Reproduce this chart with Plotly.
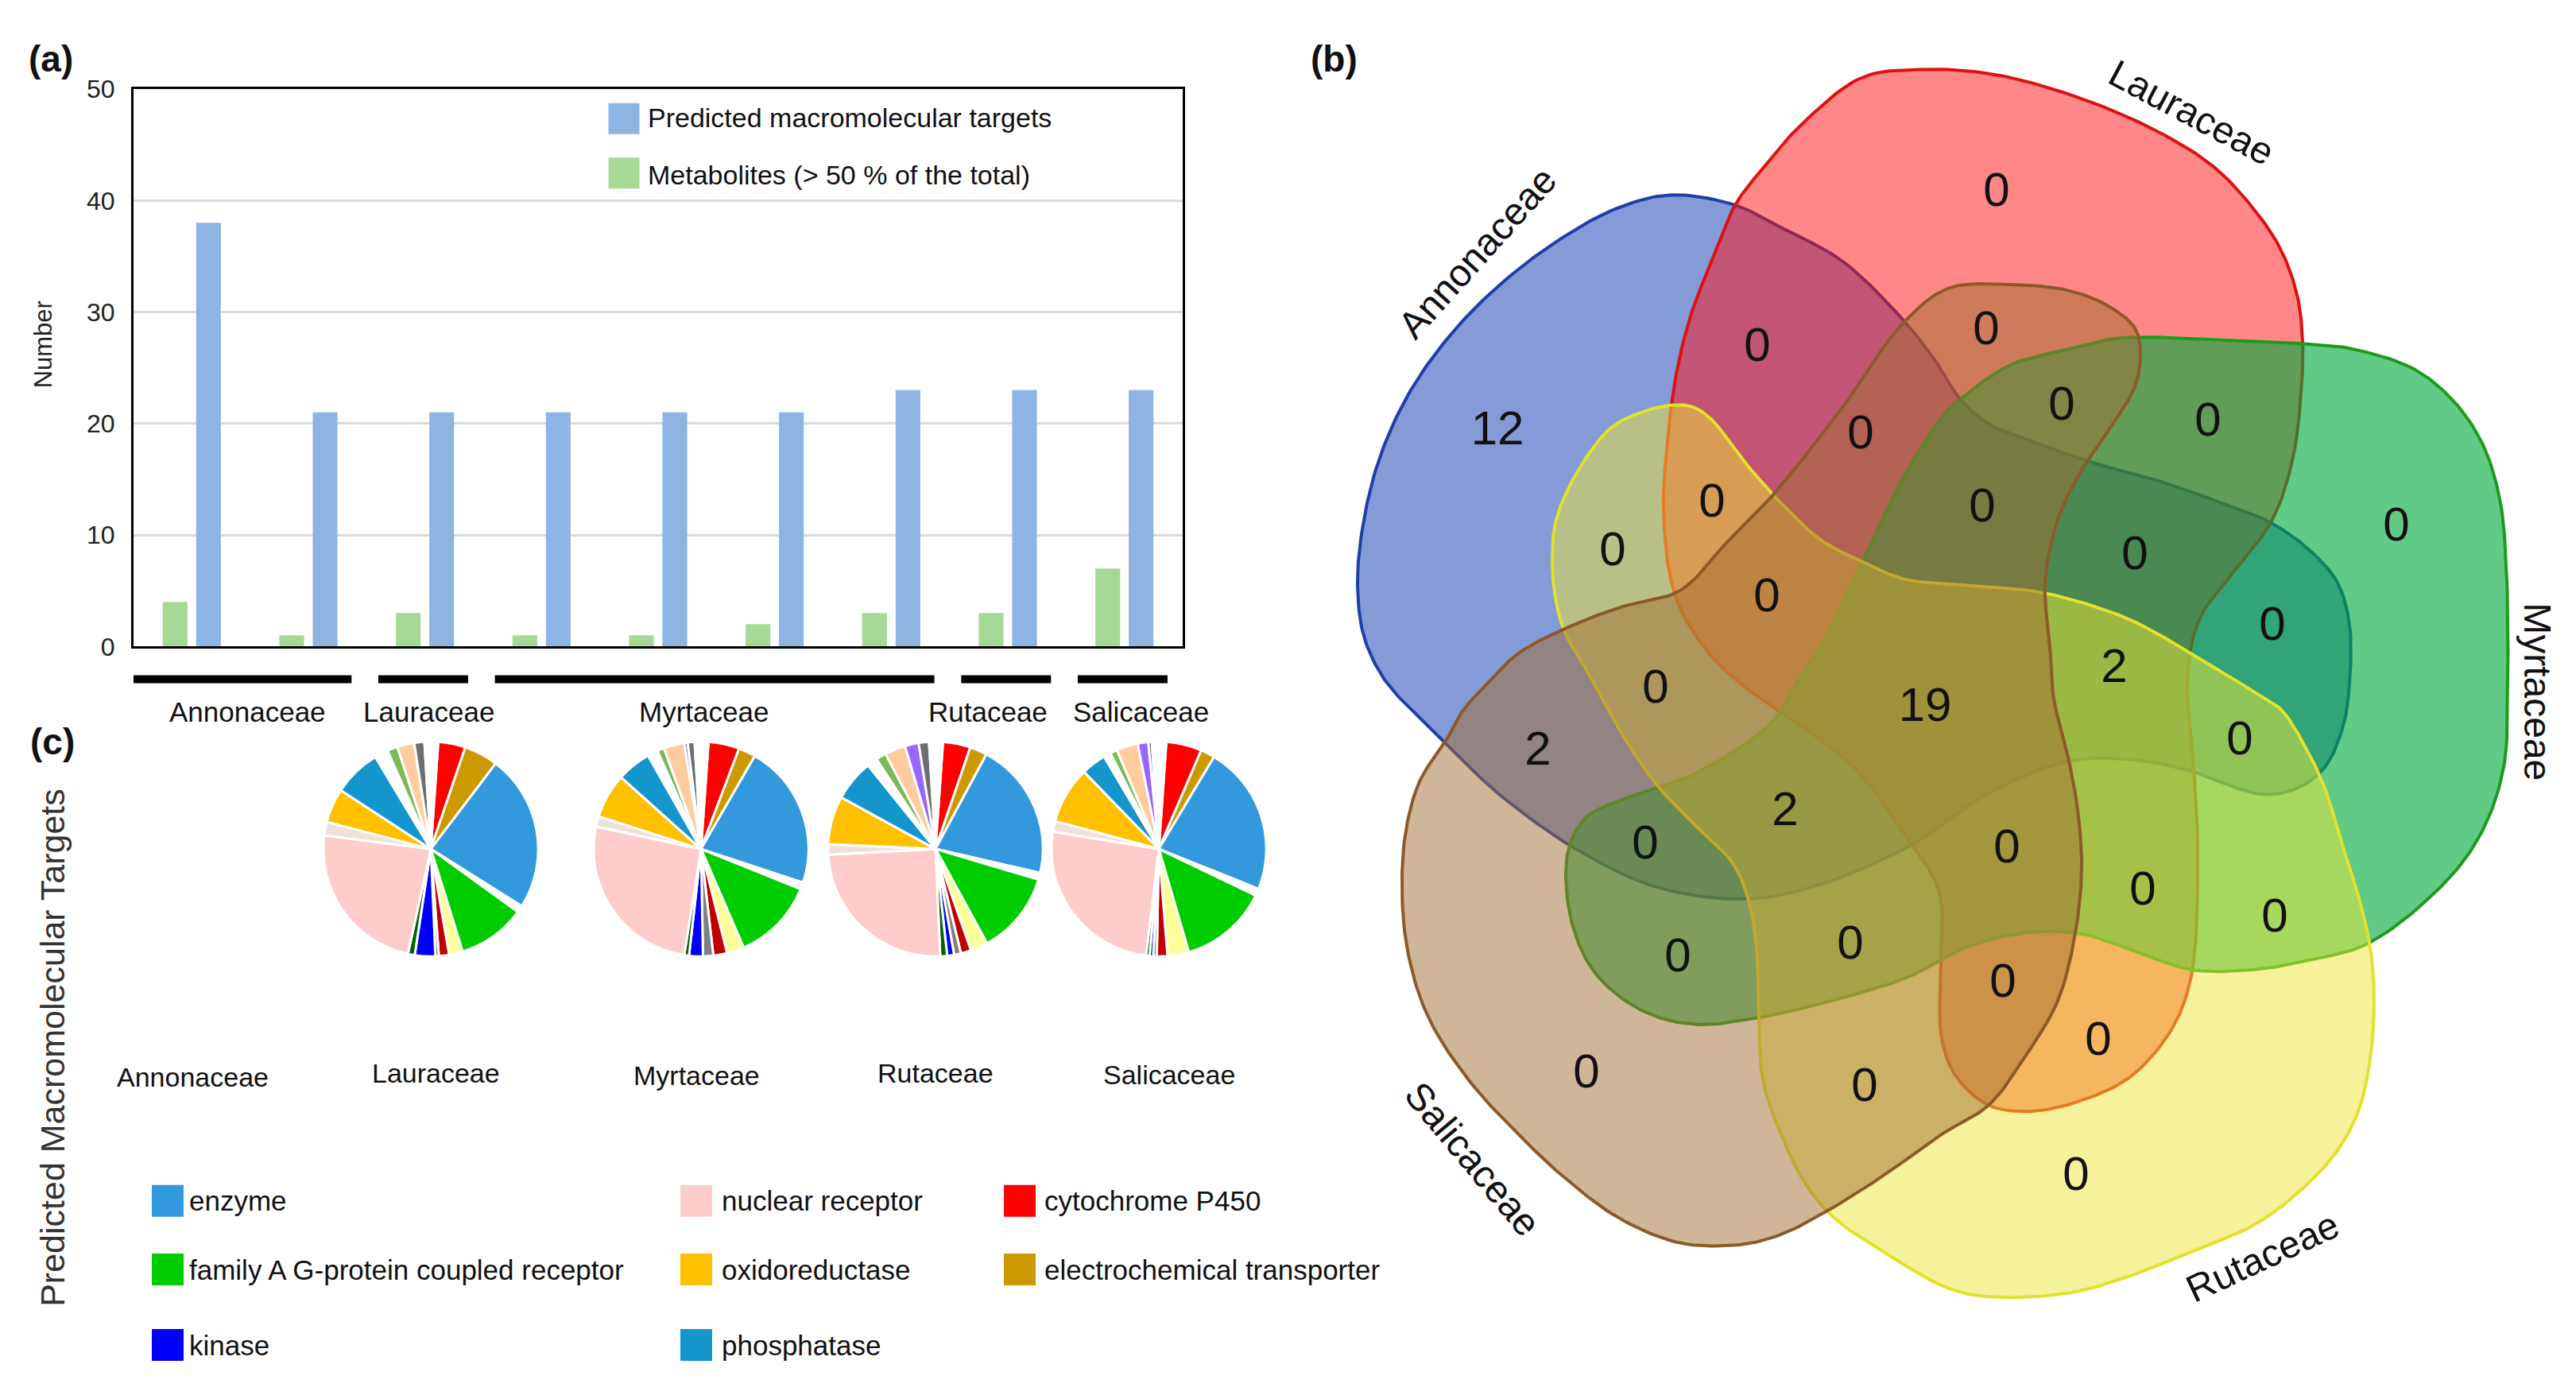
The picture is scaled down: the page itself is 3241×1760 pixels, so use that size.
import numpy as np
import plotly.graph_objects as go

W, H = 3241, 1760

# ---------------- panel (a) data ----------------
bar_groups = ["Annonaceae", "Annonaceae", "Lauraceae", "Myrtaceae", "Myrtaceae",
              "Myrtaceae", "Myrtaceae", "Rutaceae", "Salicaceae"]
targets = [38, 21, 21, 21, 21, 21, 23, 23, 23]
metabolites = [4, 1, 3, 1, 1, 2, 3, 3, 7]
y_ticks = [0, 10, 20, 30, 40, 50]
series_names = ["Predicted macromolecular targets", "Metabolites (> 50 % of the total)"]

# ---------------- panel (c) data ----------------
families_c = ["Annonaceae", "Lauraceae", "Myrtaceae", "Rutaceae", "Salicaceae"]
pie_families = ["Lauraceae", "Myrtaceae", "Rutaceae", "Salicaceae"]
target_classes = ["cytochrome P450", "electrochemical transporter", "enzyme", "other 1",
                  "family A G-protein coupled receptor", "other 2", "other 3", "other 4",
                  "kinase", "other 5", "nuclear receptor", "other 6", "oxidoreductase",
                  "phosphatase", "other 7", "other 8", "other 9", "other 10", "other 11",
                  "other 12"]
class_colors = ["#FF0000", "#CC9900", "#3399DD", "#FFFFFF", "#00CC00", "#FFFF99",
                "#C00000", "#808080", "#0000FF", "#006600", "#FFCCCC", "#F2E0D8",
                "#FFC000", "#1496CC", "#FFFFFF", "#77BB55", "#FFCCA0", "#9966FF",
                "#6E6E6E", "#FFFFFF"]
lauraceae_pct = [4, 5, 23, 1, 10, 2, 1.5, 0.5, 3, 1, 23, 2, 5, 7, 2, 1.5, 2.5, 0, 1.5, 2]
myrtaceae_pct = [4.5, 2.5, 21, 1, 12, 2.5, 2, 1.5, 2, 0.7, 25, 1.5, 6.5, 5, 1.5, 1, 3, 0.5, 1, 2]
rutaceae_pct = [4, 2.5, 20, 1, 12, 2.5, 1.5, 1, 1, 1, 24, 1.5, 7, 6, 1.5, 1.5, 3, 2, 1.5, 2]
salicaceae_pct = [5, 2, 21, 1, 12.5, 3, 1.5, 0.5, 0.5, 0.5, 24, 1.5, 8, 3.5, 1, 1, 3, 1.5, 0.5, 2]
legend_classes = ["enzyme", "nuclear receptor", "cytochrome P450",
                  "family A G-protein coupled receptor", "oxidoreductase",
                  "electrochemical transporter", "kinase", "phosphatase"]

# ---------------- panel (b) data ----------------
venn_sets = ["Annonaceae", "Lauraceae", "Myrtaceae", "Rutaceae", "Salicaceae"]
venn_counts = [12, 0, 0, 0, 0, 0, 0,
               0, 0, 0, 0, 0, 0, 0, 0, 2,
               19, 2, 2, 0, 0, 0, 0, 0,
               0, 0, 0, 0, 0, 0, 0]

# ---------------- layout geometry (pixels) ----------------
A_L, A_R, A_T, A_B = 168, 1488, 96, 812
group_label_px = [311, 539, 885, 1243, 1435]
venn_count_xy = [(1884, 537), (2211, 430), (2341, 542), (2154, 630), (2029, 692), (2223, 751), (2083, 869),
                 (2512, 231), (2499, 408), (2594, 505), (2778, 526), (2494, 636), (2686, 697), (3015, 660),
                 (2859, 788), (2660, 842),
                 (2422, 892), (1935, 948), (2246, 1026), (2070, 1069), (2111, 1214), (2328, 1197),
                 (1996, 1363), (2346, 1380),
                 (2818, 935), (2525, 1074), (2696, 1128), (2862, 1163), (2520, 1246), (2640, 1321),
                 (2612, 1495)]
venn_label_geo = [(1859, 306, -48), (2757, 126, 28), (3193, 870, 90), (2846, 1596, -25), (1853, 1471, 50)]
venn_fill = ["rgba(9,55,175,0.5)", "rgba(255,15,15,0.5)", "rgba(0,170,60,0.62)",
             "rgba(235,229,55,0.5)", "rgba(161,109,49,0.5)"]
venn_line = ["#1F3FA8", "#DD1111", "#1E9A1E", "#E2E22A", "#8C5A28"]
venn_outlines = [
    [(2103, 232), (2183, 245), (2241, 274), (2318, 317), (2394, 392), (2435, 445), (2466, 494), (2502, 526),
     (2553, 547), (2630, 575), (2706, 596), (2783, 623), (2859, 654), (2910, 692), (2941, 730), (2956, 783),
     (2956, 860), (2948, 914), (2925, 967), (2890, 994), (2849, 1002), (2798, 988), (2757, 972), (2681, 957),
     (2604, 959), (2502, 1000), (2410, 1064), (2292, 1117), (2200, 1136), (2088, 1122), (1986, 1074),
     (1884, 1000), (1818, 935), (1782, 900), (1741, 853), (1716, 799), (1708, 730), (1716, 649), (1736, 569),
     (1772, 488), (1823, 414), (1884, 350), (1961, 290), (2037, 248)],
    [(2415, 71), (2502, 76), (2604, 103), (2706, 146), (2783, 194), (2834, 248), (2869, 301), (2890, 360),
     (2897, 419), (2895, 488), (2885, 569), (2859, 649), (2808, 719), (2772, 767), (2757, 810), (2752, 865),
     (2760, 967), (2765, 1074), (2757, 1235), (2732, 1304), (2681, 1364), (2619, 1395), (2553, 1409),
     (2502, 1401), (2461, 1364), (2443, 1316), (2441, 1235), (2440, 1128), (2404, 1064), (2330, 965),
     (2241, 897), (2216, 880), (2165, 837), (2124, 783), (2103, 730), (2093, 639), (2096, 569), (2109, 462),
     (2129, 381), (2160, 302), (2183, 245), (2216, 200), (2267, 141), (2343, 81)],
    [(2461, 499), (2528, 451), (2604, 430), (2665, 416), (2790, 418), (2910, 424), (2961, 430), (3038, 456),
     (3089, 499), (3124, 553), (3145, 622), (3153, 703), (3155, 860), (3150, 967), (3124, 1047), (3079, 1112),
     (2982, 1192), (2910, 1214), (2834, 1227), (2757, 1227), (2686, 1203), (2619, 1181), (2553, 1179),
     (2477, 1197), (2404, 1235), (2343, 1256), (2216, 1288), (2129, 1297), (2063, 1278), (2006, 1230),
     (1976, 1160), (1973, 1074), (1996, 1031), (2037, 1010), (2083, 994), (2139, 972), (2231, 908),
     (2260, 860), (2292, 810), (2343, 703), (2394, 596), (2445, 515)],
    [(2103, 502), (2129, 504), (2154, 521), (2190, 569), (2241, 628), (2292, 676), (2343, 703), (2394, 725),
     (2451, 732), (2553, 740), (2604, 751), (2681, 778), (2757, 821), (2834, 869), (2869, 892), (2900, 940),
     (2925, 994), (2946, 1064), (2966, 1128), (2982, 1197), (2987, 1262), (2982, 1342), (2966, 1412),
     (2936, 1466), (2885, 1519), (2834, 1556), (2757, 1589), (2681, 1620), (2604, 1642), (2502, 1647),
     (2451, 1636), (2369, 1589), (2308, 1546), (2272, 1503), (2241, 1439), (2218, 1369), (2213, 1288),
     (2211, 1209), (2200, 1138), (2180, 1090), (2139, 1048), (2088, 994), (2047, 935), (2017, 880),
     (1996, 842), (1971, 799), (1958, 756), (1953, 703), (1958, 649), (1986, 585), (2027, 531), (2068, 510)],
    [(2451, 352), (2528, 347), (2604, 355), (2655, 376), (2686, 403), (2693, 435), (2686, 478), (2655, 531),
     (2619, 585), (2589, 649), (2573, 730), (2579, 810), (2584, 880), (2599, 940), (2614, 1021), (2619, 1101),
     (2609, 1192), (2589, 1267), (2553, 1331), (2502, 1401), (2445, 1437), (2369, 1492), (2302, 1535),
     (2241, 1567), (2190, 1580), (2114, 1578), (2037, 1546), (1966, 1492), (1910, 1438), (1848, 1369),
     (1797, 1288), (1772, 1208), (1764, 1128), (1769, 1047), (1787, 983), (1818, 935), (1840, 895),
     (1871, 860), (1910, 821), (1971, 788), (2037, 762), (2114, 740), (2170, 681), (2231, 617), (2318, 505),
     (2394, 397)],
]

FONT = "Liberation Sans, Arial, Helvetica, sans-serif"
BAR_BLUE, BAR_GREEN = "#8DB4E2", "#A6D896"


def px(x):
    return x / W


def py(y):
    return 1 - y / H


def smooth_closed(pts, n=14, alpha=0.5):
    P = np.array(pts, dtype=float)
    N = len(P)
    out = []
    for i in range(N):
        p0, p1, p2, p3 = P[(i - 1) % N], P[i], P[(i + 1) % N], P[(i + 2) % N]
        t0 = 0.0
        t1 = t0 + max(np.linalg.norm(p1 - p0), 1e-6) ** alpha
        t2 = t1 + max(np.linalg.norm(p2 - p1), 1e-6) ** alpha
        t3 = t2 + max(np.linalg.norm(p3 - p2), 1e-6) ** alpha
        for t in np.linspace(t1, t2, n, endpoint=False):
            A1 = (t1 - t) / (t1 - t0) * p0 + (t - t0) / (t1 - t0) * p1
            A2 = (t2 - t) / (t2 - t1) * p1 + (t - t1) / (t2 - t1) * p2
            A3 = (t3 - t) / (t3 - t2) * p2 + (t - t2) / (t3 - t2) * p3
            B1 = (t2 - t) / (t2 - t0) * A1 + (t - t0) / (t2 - t0) * A2
            B2 = (t3 - t) / (t3 - t1) * A2 + (t - t1) / (t3 - t1) * A3
            out.append((t2 - t) / (t2 - t1) * B1 + (t - t1) / (t2 - t1) * B2)
    out.append(out[0])
    return np.array(out)


def note(text, x, y, size, angle=0, xanchor="center", color="#111"):
    return dict(x=px(x), y=py(y), xref="paper", yref="paper",
                text=text, showarrow=False, textangle=angle, xanchor=xanchor, yanchor="middle",
                font=dict(size=size, color=color, family=FONT))


fig = go.Figure()
annotations = []
shapes = []

# ---------------- panel (a): bars ----------------
xs = list(range(len(targets)))
fig.add_trace(go.Bar(x=xs, y=metabolites, name=series_names[1], marker=dict(color=BAR_GREEN, line=dict(width=0)),
                     xaxis="x", yaxis="y"))
fig.add_trace(go.Bar(x=xs, y=targets, name=series_names[0], marker=dict(color=BAR_BLUE, line=dict(width=0)),
                     xaxis="x", yaxis="y"))

# group brackets below the axis, derived from the group runs
runs = []
start = 0
for i in range(1, len(bar_groups) + 1):
    if i == len(bar_groups) or bar_groups[i] != bar_groups[start]:
        runs.append((bar_groups[start], start, i - 1))
        start = i
for k, (name, a, b) in enumerate(runs):
    x0 = a - 0.5 + (0.0 if k == 0 else 0.1)
    x1 = b + 0.5 - 0.13
    shapes.append(dict(type="line", xref="x", yref="paper", x0=x0, x1=x1, y0=py(854), y1=py(854),
                       line=dict(color="black", width=10)))
    annotations.append(note(name, group_label_px[k], 896, 35))

# ---------------- overlay pixel axis content ----------------
# legend of (a)
fig.add_trace(go.Scatter(x=[785, 785], y=[134, 204], mode="markers",
                         marker=dict(symbol="square", size=39, color=[BAR_BLUE, BAR_GREEN]),
                         xaxis="x2", yaxis="y2", hoverinfo="skip"))
for name, yy in zip(series_names, [133, 206]):
    annotations.append(note(name, 813, yy, 34, xanchor="left"))

# venn shapes
for i, s in enumerate(venn_sets):
    c = smooth_closed(venn_outlines[i])
    fig.add_trace(go.Scatter(x=c[:, 0], y=c[:, 1], mode="lines", fill="toself", fillcolor=venn_fill[i],
                             line=dict(color=venn_line[i], width=4), name=s, hoverinfo="skip",
                             xaxis="x2", yaxis="y2"))
fig.add_trace(go.Scatter(x=[p[0] for p in venn_count_xy], y=[p[1] for p in venn_count_xy],
                         mode="text", text=[str(v) for v in venn_counts],
                         textfont=dict(size=60, color="#111", family=FONT), hoverinfo="skip",
                         xaxis="x2", yaxis="y2"))
for s, (lx, ly, ang) in zip(venn_sets, venn_label_geo):
    annotations.append(note(s, lx, ly, 48, angle=ang))

# ---------------- panel (c): pies ----------------
pie_vals = [lauraceae_pct, myrtaceae_pct, rutaceae_pct, salicaceae_pct]
pie_cx = [542, 882, 1177, 1458]
pie_cy = 1072
R = 138
for fam, vals, cx in zip(pie_families, pie_vals, pie_cx):
    fig.add_trace(go.Pie(values=vals, labels=target_classes, name=fam, sort=False, direction="clockwise",
                         rotation=4, textinfo="none", hoverinfo="label+percent",
                         marker=dict(colors=class_colors, line=dict(color="white", width=3)),
                         domain=dict(x=[px(cx - R), px(cx + R)], y=[py(pie_cy + R), py(pie_cy - R)]),
                         showlegend=False))

for fam, (lx, ly) in zip(families_c, [(242, 1365), (548, 1360), (876, 1363), (1177, 1360), (1471, 1362)]):
    annotations.append(note(fam, lx, ly, 34))

# legend of (c)
col_marker_x = [211, 876, 1283]
col_text_x = [236, 906, 1312]
row_y = [1524, 1612, 1709]
leg_x, leg_y, leg_c = [], [], []
for j, name in enumerate(legend_classes):
    r, c = divmod(j, 3)
    leg_x.append(col_marker_x[c])
    leg_y.append(row_y[r])
    leg_c.append(class_colors[target_classes.index(name)])
    annotations.append(note(name, col_text_x[c], row_y[r], 35, xanchor="left"))
fig.add_trace(go.Scatter(x=leg_x, y=leg_y, mode="markers",
                         marker=dict(symbol="square", size=40, color=leg_c),
                         xaxis="x2", yaxis="y2", hoverinfo="skip"))

# titles / panel letters
annotations += [
    note("Number", 54, 424, 31, angle=-90, color="#222"),
    note("Predicted Macromolecular Targets", 66, 1327, 43, angle=-90, color="#333"),
    note("<b>(a)</b>", 64, 57, 46),
    note("<b>(b)</b>", 1679, 57, 46),
    note("<b>(c)</b>", 66, 934, 46),
]

fig.update_layout(
    width=W, height=H, margin=dict(l=0, r=0, t=0, b=0),
    paper_bgcolor="white", plot_bgcolor="rgba(0,0,0,0)",
    showlegend=False, barmode="group", bargap=0.427, bargroupgap=0.26,
    font=dict(family=FONT, color="#111"),
    xaxis=dict(domain=[px(A_L), px(A_R)], range=[-0.5, len(targets) - 0.5], showgrid=False,
               showticklabels=False, ticks="", zeroline=False, showline=True, mirror=True,
               linecolor="black", linewidth=3, anchor="y", fixedrange=True),
    yaxis=dict(domain=[py(A_B), py(A_T)], range=[0, 50], tickvals=y_ticks, showgrid=True,
               gridcolor="#D9D9D9", gridwidth=3, zeroline=False, showline=True, mirror=True,
               linecolor="black", linewidth=3, ticks="", ticklabelstandoff=14,
               tickfont=dict(size=32, color="#222", family=FONT), anchor="x", fixedrange=True),
    xaxis2=dict(domain=[0, 1], range=[0, W], visible=False, anchor="y2", fixedrange=True),
    yaxis2=dict(domain=[0, 1], range=[H, 0], visible=False, anchor="x2", fixedrange=True),
    annotations=annotations,
    shapes=shapes,
)

fig.write_html("out.html", config={"displayModeBar": False},
               post_script="document.body.style.margin='0';document.body.style.overflow='hidden';")
